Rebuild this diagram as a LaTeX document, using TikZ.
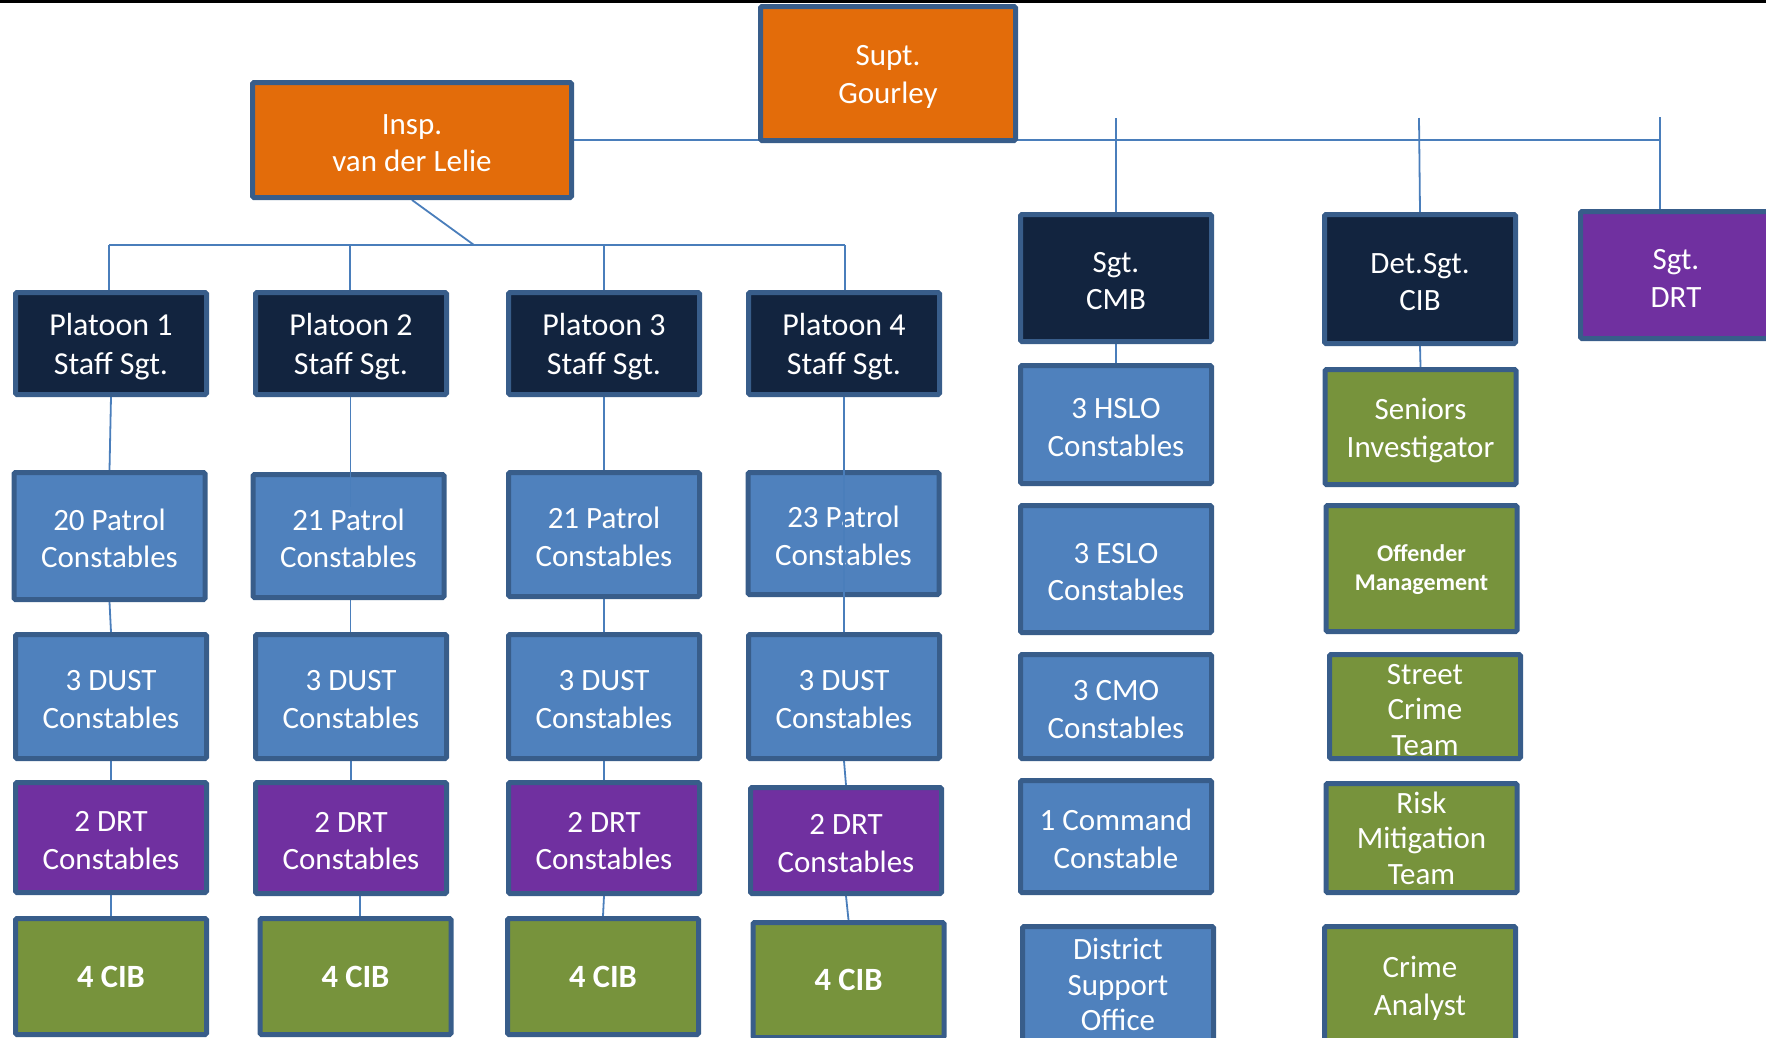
\documentclass[tikz,border=0pt]{standalone}
\usepackage{fontspec}
\setmainfont{Carlito}
\definecolor{bord}{HTML}{385D8A}
\definecolor{orng}{HTML}{E36C0A}
\definecolor{navy}{HTML}{12243F}
\definecolor{blu}{HTML}{4F81BD}
\definecolor{purp}{HTML}{7030A0}
\definecolor{grn}{HTML}{77933C}
\definecolor{conn}{HTML}{4A7EBB}
\pgfdeclarelayer{background}
\pgfsetlayers{background,main}
\newcommand\upa{\rule{0pt}{26.5pt}}
\newcommand\upb{\rule{0pt}{28.5pt}}
\newcommand\upc{\rule{0pt}{20pt}}
\tikzset{
  box/.style={draw=bord, line width=5pt, text=white, align=center, inner sep=0pt,
    font=\fontsize{31}{37.5}\selectfont, rounded corners=1.5pt, minimum width=191pt},
  platbox/.style={box, fill=navy, font=\fontsize{32}{38.5}\selectfont},
  three/.style={font=\fontsize{31}{35.5}\selectfont},
  orangebox/.style={box, fill=orng},
  navybox/.style={box, fill=navy},
  bluebox/.style={box, fill=blu},
  purplebox/.style={box, fill=purp},
  greenbox/.style={box, fill=grn},
  cibbox/.style={greenbox, font=\bfseries\fontsize{32.5}{38}\selectfont},
  wline/.style={draw=conn, line width=1.8pt},
}
\begin{document}
\begin{tikzpicture}[x=1pt,y=-1pt]
\useasboundingbox (0,0) rectangle (1766,1037);
\clip (0,0) rectangle (1766,1037);
\fill[black] (0,0) rectangle (1766,3);

% top
\node[orangebox, minimum width=255pt, minimum height=134pt] (supt) at (888,73.5) {\upa Supt.\\Gourley};
\node[orangebox, minimum width=319pt, minimum height=115pt] (insp) at (412,140) {\upa Insp.\\van der Lelie};

% platoons
\node[platbox, minimum height=102pt] (p1) at (111,343.5) {\upb Platoon 1\\Staff Sgt.};
\node[platbox, minimum height=102pt] (p2) at (351,343.5) {\upb Platoon 2\\Staff Sgt.};
\node[platbox, minimum height=102pt] (p3) at (604,343.5) {\upb Platoon 3\\Staff Sgt.};
\node[platbox, minimum height=102pt] (p4) at (844,343.5) {\upb Platoon 4\\Staff Sgt.};

\node[bluebox, minimum height=127pt] (p1pat) at (109.5,536) {\upa 20 Patrol\\Constables};
\node[bluebox, minimum height=123pt] (p2pat) at (348.5,536) {\upa 21 Patrol\\Constables};
\node[bluebox, minimum height=124pt] (p3pat) at (604,534.5) {\upa 21 Patrol\\Constables};
\node[bluebox, minimum height=122pt] (p4pat) at (843.5,533.5) {\upa 23 Patrol\\Constables};

\node[bluebox, minimum height=124pt] (p1dust) at (111,696.5) {\upa 3 DUST\\Constables};
\node[bluebox, minimum height=124pt] (p2dust) at (351,696.5) {\upa 3 DUST\\Constables};
\node[bluebox, minimum height=124pt] (p3dust) at (604,696.5) {\upa 3 DUST\\Constables};
\node[bluebox, minimum height=124pt] (p4dust) at (844,696.5) {\upa 3 DUST\\Constables};

\node[purplebox, minimum height=110pt] (p1drt) at (111,837.5) {\upa 2 DRT\\Constables};
\node[purplebox, minimum height=111pt] (p2drt) at (351,838) {\upa 2 DRT\\Constables};
\node[purplebox, minimum height=111pt] (p3drt) at (604,838) {\upa 2 DRT\\Constables};
\node[purplebox, minimum height=106pt] (p4drt) at (846,840.5) {\upa 2 DRT\\Constables};

\node[cibbox, minimum height=116pt] (p1cib) at (111,976.5) {4 CIB};
\node[cibbox, minimum height=116pt] (p2cib) at (355.5,976.5) {4 CIB};
\node[cibbox, minimum height=116pt] (p3cib) at (603,976.5) {4 CIB};
\node[cibbox, minimum height=115pt] (p4cib) at (848.5,980) {4 CIB};

% right side
\node[navybox, minimum height=127pt] (cmb) at (1116,278) {\upa Sgt.\\CMB};
\node[navybox, minimum height=129pt] (dsgt) at (1420,279) {\upa Det.Sgt.\\CIB};
\node[purplebox, minimum height=127pt] (sdrt) at (1676,275) {\upa Sgt.\\DRT};

\node[bluebox, minimum height=118pt] (hslo) at (1116,424.5) {\upa 3 HSLO\\Constables};
\node[bluebox, minimum height=127pt] (eslo) at (1116,569) {\upa 3 ESLO\\Constables};
\node[bluebox, minimum height=104pt] (cmo) at (1116,706.5) {\upa 3 CMO\\Constables};
\node[bluebox, minimum height=112pt] (cmd) at (1116,836.5) {\upa 1 Command\\Constable};
\node[bluebox, three, minimum height=116pt] (dso) at (1118,984.5) {District\\Support\\Office};

\node[greenbox, minimum height=115pt] (sen) at (1420.5,427) {\upb Seniors\\Investigator};
\node[greenbox, minimum height=126pt, font=\bfseries\fontsize{24}{29}\selectfont] (off) at (1421.5,568.5) {\upc Offender\\Management};
\node[greenbox, three, minimum height=104pt] (sct) at (1425,706.5) {\upa Street\\Crime\\Team};
\node[greenbox, three, minimum height=109pt] (rmt) at (1421.5,838) {Risk\\Mitigation\\Team};
\node[greenbox, minimum height=116pt] (ca) at (1420,984.5) {\upb Crime\\Analyst};

% connector coordinates
\coordinate (tr) at (1660,139);
\coordinate (d1) at (1116,118);
\coordinate (d2) at (1419,118);
\coordinate (d3) at (1660,117);
\coordinate (bm) at (474,245);
\coordinate (b1) at (109,245);
\coordinate (b2) at (350,245);
\coordinate (b3) at (604,245);
\coordinate (b4) at (845,245);
\coordinate (x360) at (360,0);
\coordinate (p2in) at (350.5,507);

\begin{pgfonlayer}{background}
\draw[wline] (insp.east) -- (insp.east -| tr);
\draw[wline] (d1) -- (cmb.north);
\draw[wline] (d2) -- (dsgt.north);
\draw[wline] (d3) -- (d3 |- sdrt.north);
\draw[wline] (insp.south) -- (bm);
\draw[wline] (b1) -- (b4);
\draw[wline] (b1) -- (b1 |- p1.north);
\draw[wline] (b2) -- (b2 |- p2.north);
\draw[wline] (b3) -- (b3 |- p3.north);
\draw[wline] (b4) -- (b4 |- p4.north);
% column 1
\draw[wline] (p1.south) -- (p1pat.north);
\draw[wline] (p1pat.south) -- (p1dust.north);
\draw[wline] (p1dust.south) -- (p1drt.north);
\draw[wline] (p1drt.south) -- (p1cib.north);
% column 2
\draw[wline] (p2pat.south -| p2in) -- (p2dust.north -| p2in);
\draw[wline] (p2dust.south) -- (p2drt.north);
\draw[wline] (p2drt.south -| x360) -- (p2cib.north -| x360);
% column 3
\draw[wline] (p3.south) -- (p3pat.north);
\draw[wline] (p3pat.south) -- (p3dust.north);
\draw[wline] (p3dust.south) -- (p3drt.north);
\draw[wline] (p3drt.south) -- (p3cib.north);
% column 4
\draw[wline] (p4dust.south) -- (p4drt.north);
\draw[wline] (p4drt.south) -- (p4cib.north);
% right
\draw[wline] (cmb.south) -- (hslo.north);
\draw[wline] (dsgt.south) -- (sen.north);
\end{pgfonlayer}
% connectors that run over boxes
\draw[wline, line width=1.2pt] (p2.south -| p2in) -- (p2in);
\draw[wline, line width=1.2pt] (p4.south) -- (p4dust.north);
\end{tikzpicture}
\end{document}
